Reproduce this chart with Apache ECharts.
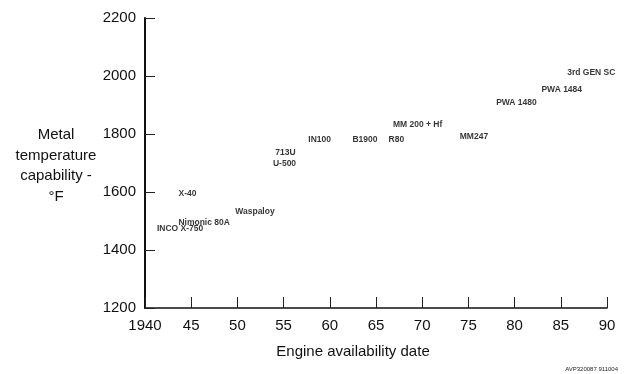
<!DOCTYPE html>
<html>
<head>
<meta charset="utf-8">
<script src="https://cdn.jsdelivr.net/npm/echarts@6/dist/echarts.min.js"></script>
<style>
  html, body { margin: 0; padding: 0; background: #fff; }
  #chart { width: 625px; height: 374px; }
</style>
</head>
<body>
<div id="chart"></div>
<script>
// alloy labels, placed at (year, metal temperature °F)
const alloyNames = ['INCO X-750', 'Nimonic 80A', 'Waspaloy', 'X-40', '713U', 'U-500', 'IN100',
  'B1900', 'R80', 'MM 200 + Hf', 'MM247', 'PWA 1480', 'PWA 1484', '3rd GEN SC'];
const alloyYears = [1943.8, 1946.4, 1951.9, 1944.6, 1955.2, 1955.1, 1958.9,
  1963.8, 1967.2, 1969.5, 1975.6, 1980.2, 1985.1, 1988.3];
const alloyTemps = [1472, 1496, 1531, 1596, 1737, 1699, 1782,
  1782, 1779, 1831, 1790, 1907, 1952, 2013];

const xTicks = [1940, 1945, 1950, 1955, 1960, 1965, 1970, 1975, 1980, 1985, 1990];
const yTicks = [1200, 1400, 1600, 1800, 2000, 2200];

const font = 'Liberation Sans, Arial, Helvetica, sans-serif';
const chart = echarts.init(document.getElementById('chart'));

const points = alloyNames.map((n, i) => ({ name: n, value: [alloyYears[i], alloyTemps[i]] }));

chart.setOption({
  animation: false,
  backgroundColor: '#fff',
  grid: { left: 145, right: 18, top: 18, bottom: 66 },
  xAxis: {
    type: 'value',
    min: xTicks[0],
    max: xTicks[xTicks.length - 1],
    interval: 5,
    axisLine: { lineStyle: { color: '#111', width: 1.5 } },
    axisTick: { inside: true, length: 11, lineStyle: { color: '#222', width: 1 } },
    axisLabel: {
      color: '#111', fontSize: 15, fontFamily: font, margin: 10,
      formatter: v => v === 1940 ? '1940' : String(v % 100)
    },
    splitLine: { show: false }
  },
  yAxis: {
    type: 'value',
    min: yTicks[0],
    max: yTicks[yTicks.length - 1],
    interval: 200,
    axisLine: { show: true, lineStyle: { color: '#111', width: 2 } },
    axisTick: { show: true, inside: true, length: 10, lineStyle: { color: '#222', width: 1 } },
    axisLabel: { color: '#111', fontSize: 15, fontFamily: font, margin: 9, formatter: v => String(v) },
    splitLine: { show: false }
  },
  graphic: [
    {
      type: 'text',
      style: {
        x: 56, y: 125, text: 'Metal\ntemperature\ncapability -\n°F',
        font: '15px ' + font, fill: '#111', align: 'center', lineHeight: 20.5
      }
    },
    {
      type: 'text',
      style: { x: 353, y: 344, text: 'Engine availability date', font: '15px ' + font, fill: '#111', align: 'center' }
    },
    {
      type: 'text',
      style: { x: 618, y: 366, text: 'AVP320087 911004', font: '6px ' + font, fill: '#222', align: 'right' }
    }
  ],
  series: [{
    type: 'scatter',
    symbolSize: 0,
    data: points,
    label: {
      show: true,
      position: 'inside',
      formatter: p => p.name,
      color: '#000',
      fontSize: 8.5,
      fontWeight: 'bold',
      fontFamily: font
    }
  }]
});
</script>
</body>
</html>
